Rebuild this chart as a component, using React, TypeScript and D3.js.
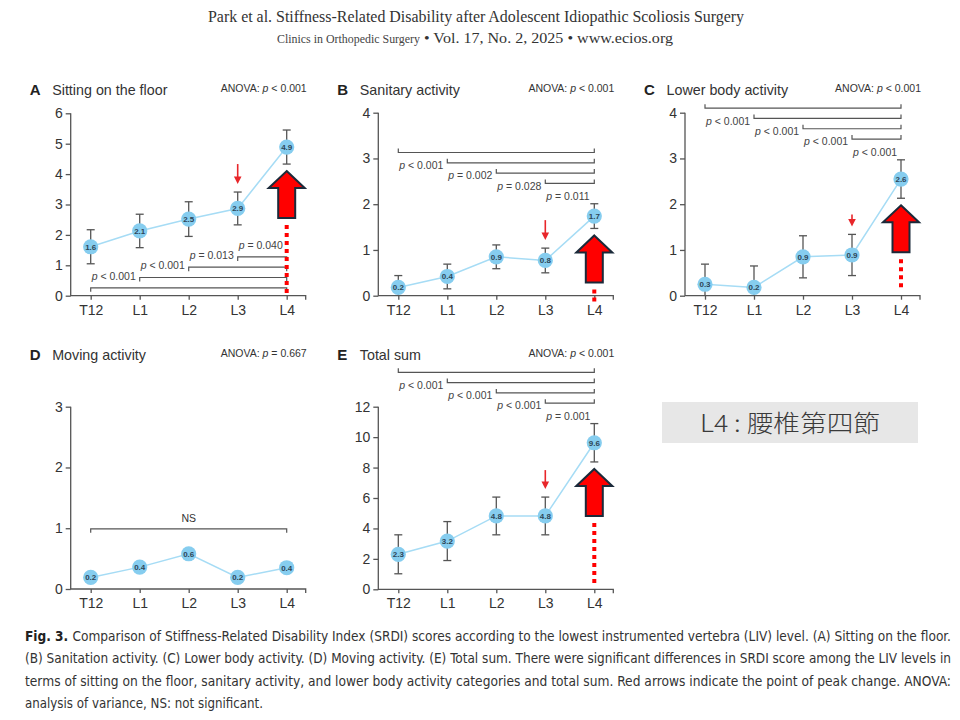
import React, { useRef, useEffect } from "react";
import * as d3 from "d3";

// LIV levels
const levels = ["T12", "L1", "L2", "L3", "L4"];

// A. Sitting on the floor
const sittingMean = [1.61, 2.13, 2.52, 2.87, 4.89];
const sittingSd = [0.56, 0.55, 0.57, 0.54, 0.56];
const sittingLabels = ["1.6", "2.1", "2.5", "2.9", "4.9"];
const sittingTicks = [0, 1, 2, 3, 4, 5, 6];
const sittingP = ["p < 0.001", "p < 0.001", "p = 0.013", "p = 0.040"];

// B. Sanitary activity
const sanitaryMean = [0.18, 0.42, 0.85, 0.77, 1.74];
const sanitarySd = [0.26, 0.27, 0.26, 0.27, 0.27];
const sanitaryLabels = ["0.2", "0.4", "0.9", "0.8", "1.7"];
const sanitaryTicks = [0, 1, 2, 3, 4];
const sanitaryP = ["p < 0.001", "p = 0.002", "p = 0.028", "p = 0.011"];

// C. Lower body activity
const lowerMean = [0.25, 0.18, 0.85, 0.89, 2.55];
const lowerSd = [0.44, 0.47, 0.46, 0.45, 0.42];
const lowerLabels = ["0.3", "0.2", "0.9", "0.9", "2.6"];
const lowerTicks = [0, 1, 2, 3, 4];
const lowerP = ["p < 0.001", "p < 0.001", "p < 0.001", "p < 0.001"];

// D. Moving activity
const movingMean = [0.19, 0.36, 0.58, 0.19, 0.35];
const movingLabels = ["0.2", "0.4", "0.6", "0.2", "0.4"];
const movingTicks = [0, 1, 2, 3];

// E. Total sum
const totalMean = [2.3, 3.17, 4.82, 4.82, 9.63];
const totalSd = [1.28, 1.28, 1.24, 1.24, 1.26];
const totalLabels = ["2.3", "3.2", "4.8", "4.8", "9.6"];
const totalTicks = [0, 2, 4, 6, 8, 10, 12];
const totalP = ["p < 0.001", "p < 0.001", "p < 0.001", "p = 0.001"];

const FONT = "'Liberation Sans', Arial, Helvetica, sans-serif";
const AXIS = "#555";

const captionLines = [
  "Comparison of Stiffness-Related Disability Index (SRDI) scores according to the lowest instrumented vertebra (LIV) level. (A) Sitting on the floor.",
  "(B) Sanitation activity. (C) Lower body activity. (D) Moving activity. (E) Total sum. There were significant differences in SRDI score among the LIV levels in",
  "terms of sitting on the floor, sanitary activity, and lower body activity categories and total sum. Red arrows indicate the point of peak change. ANOVA:",
  "analysis of variance, NS: not significant.",
];

const PText = ({ s }) => {
  // italic "p", rest upright
  if (s.startsWith("p ")) {
    return (
      <>
        <tspan fontStyle="italic">p</tspan>
        {s.slice(1)}
      </>
    );
  }
  return <>{s}</>;
};

function Panel({ cfg }) {
  const xRef = useRef(null);
  const yRef = useRef(null);
  const { axisX, top, bottom } = cfg;

  const x = d3.scalePoint().domain(levels).range([axisX + 20, axisX + 216]);
  const y = d3.scaleLinear().domain([0, cfg.yMax]).range([bottom, top]);

  useEffect(() => {
    const gx = d3.select(xRef.current);
    gx.call(d3.axisBottom(x).tickSize(4).tickSizeOuter(0).tickPadding(5));
    gx.select(".domain").remove();
    gx.selectAll("line").attr("stroke", AXIS).attr("stroke-width", 1.3);
    gx.selectAll("text").attr("font-size", 14).attr("font-family", FONT).attr("fill", "#333");

    const gy = d3.select(yRef.current);
    gy.call(d3.axisLeft(y).tickValues(cfg.ticks).tickFormat(d3.format("d")).tickSize(5).tickSizeOuter(0).tickPadding(3));
    gy.select(".domain").remove();
    gy.selectAll("line").attr("stroke", AXIS).attr("stroke-width", 1.3);
    gy.selectAll("text").attr("font-size", 14).attr("font-family", FONT).attr("fill", "#333");
  }, [cfg]);

  const pts = cfg.mean.map((m, i) => [x(levels[i]), y(m)]);
  const line = d3.line()(pts);

  // significance brackets, all ending at L4
  const brackets = cfg.pvals
    ? cfg.pvals.map((p, i) => {
        const ly = y(cfg.bracketStart) + cfg.bracketDir * i * 10.3;
        const x0 = x(levels[i]);
        const x1 = x("L4");
        const t = -cfg.bracketDir * 4;
        return (
          <g key={i}>
            <path d={`M${x0},${ly + t}V${ly}H${x1}V${ly + t}`} fill="none" stroke={AXIS} strokeWidth={1.2} />
            <text x={x0 + 1} y={cfg.bracketDir > 0 ? ly + 16.5 : ly - 8} fontSize={10.5} fontFamily={FONT} fill="#444">
              <PText s={p} />
            </text>
          </g>
        );
      })
    : null;

  const l4 = x("L4");
  const l3 = x("L3");
  let bigArrow = null;
  let smallArrow = null;
  if (cfg.sd && cfg.arrows) {
    const ty = y(cfg.mean[4] - cfg.sd[4]) + 7;
    bigArrow = (
      <g>
        <line x1={l4} x2={l4} y1={ty + 54} y2={bottom + cfg.dotEnd} stroke="#ff0000" strokeWidth={4} strokeDasharray="4 4" />
        <path
          d={`M${l4},${ty}L${l4 + 18},${ty + 17}H${l4 + 8.5}V${ty + 47}H${l4 - 8.5}V${ty + 17}H${l4 - 18}Z`}
          fill="#ff0000"
          stroke="#1b2a3a"
          strokeWidth={2}
        />
      </g>
    );
    const st = y(cfg.mean[3] + cfg.sd[3]) - 8;
    smallArrow = (
      <g>
        <line x1={l3} x2={l3} y1={st - cfg.smallLen} y2={st - 5} stroke="#e8262a" strokeWidth={1.6} />
        <path d={`M${l3 - 3.8},${st - 7.5}H${l3 + 3.8}L${l3},${st}Z`} fill="#e8262a" />
      </g>
    );
  }

  return (
    <g>
      <text x={axisX - 41} y={cfg.titleY} fontSize={15} fontWeight="bold" fontFamily={FONT} fill="#222">
        {cfg.letter}
      </text>
      <text x={axisX - 18.5} y={cfg.titleY} fontSize={14.3} fontFamily={FONT} fill="#333">
        {cfg.title}
      </text>
      <text x={axisX + 236} y={cfg.titleY - 3} fontSize={10.5} fontFamily={FONT} fill="#333" textAnchor="end">
        ANOVA: <tspan fontStyle="italic">p</tspan> {cfg.anova}
      </text>

      <path d={`M${axisX},${top}V${bottom}H${axisX + 235}v4`} fill="none" stroke={AXIS} strokeWidth={1.3} />
      <g ref={xRef} transform={`translate(0,${bottom})`} />
      <g ref={yRef} transform={`translate(${axisX},0)`} />

      {brackets}
      {cfg.ns && (
        <g>
          <path
            d={`M${x("T12")},${y(cfg.ns) + 4}V${y(cfg.ns)}H${l4}V${y(cfg.ns) + 4}`}
            fill="none"
            stroke={AXIS}
            strokeWidth={1.2}
          />
          <text x={(x("T12") + l4) / 2} y={y(cfg.ns) - 6.5} fontSize={10.5} fontFamily={FONT} fill="#333" textAnchor="middle">
            NS
          </text>
        </g>
      )}

      {cfg.sd &&
        cfg.mean.map((m, i) => {
          const cx = x(levels[i]);
          const hi = y(m + cfg.sd[i]);
          const loV = m - cfg.sd[i];
          const lo = y(Math.max(0, loV));
          return (
            <g key={i} stroke={AXIS} strokeWidth={1.3}>
              <line x1={cx} x2={cx} y1={hi} y2={lo} />
              <line x1={cx - 4} x2={cx + 4} y1={hi} y2={hi} />
              {loV > 0 && <line x1={cx - 4} x2={cx + 4} y1={lo} y2={lo} />}
            </g>
          );
        })}

      <path d={line} fill="none" stroke="#a6dcf5" strokeWidth={1.5} />
      {pts.map(([cx, cy], i) => (
        <g key={i}>
          <circle cx={cx} cy={cy} r={7.6} fill="#86cdef" />
          <text x={cx} y={cy + 2.8} fontSize={8} fontWeight="bold" fontFamily={FONT} fill="#2e4658" textAnchor="middle">
            {cfg.labels[i]}
          </text>
        </g>
      ))}

      {smallArrow}
      {bigArrow}
    </g>
  );
}

const panels = [
  {
    letter: "A", title: "Sitting on the floor", anova: "< 0.001", axisX: 70.7, top: 113.3, bottom: 295.7, titleY: 95,
    yMax: 6, ticks: sittingTicks, mean: sittingMean, sd: sittingSd, labels: sittingLabels,
    pvals: sittingP, bracketStart: 0.26, bracketDir: -1, arrows: true, smallLen: 20, dotEnd: 0,
  },
  {
    letter: "B", title: "Sanitary activity", anova: "< 0.001", axisX: 378.3, top: 112.7, bottom: 295.7, titleY: 95,
    yMax: 4, ticks: sanitaryTicks, mean: sanitaryMean, sd: sanitarySd, labels: sanitaryLabels,
    pvals: sanitaryP, bracketStart: 3.13, bracketDir: 1, arrows: true, smallLen: 20, dotEnd: 6,
  },
  {
    letter: "C", title: "Lower body activity", anova: "< 0.001", axisX: 685, top: 112.7, bottom: 295.7, titleY: 95,
    yMax: 4, ticks: lowerTicks, mean: lowerMean, sd: lowerSd, labels: lowerLabels,
    pvals: lowerP, bracketStart: 4.1, bracketDir: 1, arrows: true, smallLen: 12, dotEnd: -6,
  },
  {
    letter: "D", title: "Moving activity", anova: "= 0.667", axisX: 70.7, top: 406.7, bottom: 589, titleY: 360,
    yMax: 3, ticks: movingTicks, mean: movingMean, sd: null, labels: movingLabels, ns: 0.99,
  },
  {
    letter: "E", title: "Total sum", anova: "< 0.001", axisX: 378.3, top: 406.7, bottom: 589.3, titleY: 360,
    yMax: 12, ticks: totalTicks, mean: totalMean, sd: totalSd, labels: totalLabels,
    pvals: totalP, bracketStart: 14.26, bracketDir: 1, arrows: true, smallLen: 19, dotEnd: -4,
  },
];

export default function App() {
  const capFont = "'Liberation Sans Narrow', 'DejaVu Sans Condensed', 'Arial Narrow', sans-serif";
  return (
    <svg width={960} height={720} style={{ position: "absolute", left: 0, top: 0, background: "#fff" }}>
      <rect width={960} height={720} fill="#fff" />
      {/* journal header */}
      <text x={208} y={21.5} fontSize={16} fontFamily="'Liberation Serif', 'DejaVu Serif', serif" fill="#333" textLength={536} lengthAdjust="spacingAndGlyphs">
        Park et al. Stiffness-Related Disability after Adolescent Idiopathic Scoliosis Surgery
      </text>
      <text x={277} y={43} fontSize={13} fontFamily="'Liberation Serif', 'DejaVu Serif', serif" fill="#444" textLength={143} lengthAdjust="spacingAndGlyphs">
        Clinics in Orthopedic Surgery
      </text>
      <text x={424} y={43} fontSize={14.5} fontFamily="'Liberation Serif', 'DejaVu Serif', serif" fill="#333" textLength={249} lengthAdjust="spacingAndGlyphs">
        • Vol. 17, No. 2, 2025 • www.ecios.org
      </text>

      {panels.map((p) => (
        <Panel key={p.letter} cfg={p} />
      ))}

      {/* L4 note */}
      <rect x={662} y={402} width={256} height={41} fill="#e7e7e7" />
      <text x={700} y={431.5} fontSize={24} fontWeight={300} fontFamily="'Noto Sans CJK TC', 'Noto Sans CJK SC', sans-serif" fill="#3a3a3a" textLength={180} lengthAdjust="spacingAndGlyphs">
        L4 : 腰椎第四節
      </text>

      {/* figure caption: narrow face, stretched vertically */}
      {captionLines.map((s, i) => (
        <g key={i} transform={`translate(25,${641 + i * 22.4}) scale(1,1.12)`}>
          <text
            x={0}
            y={0}
            fontSize={13}
            fontFamily={capFont}
            fill="#333"
            textLength={i === 3 ? 238 : 926}
            lengthAdjust="spacingAndGlyphs"
          >
            {i === 0 && (
              <tspan fontWeight="bold" fill="#222">
                Fig. 3.{" "}
              </tspan>
            )}
            {s}
          </text>
        </g>
      ))}
    </svg>
  );
}
